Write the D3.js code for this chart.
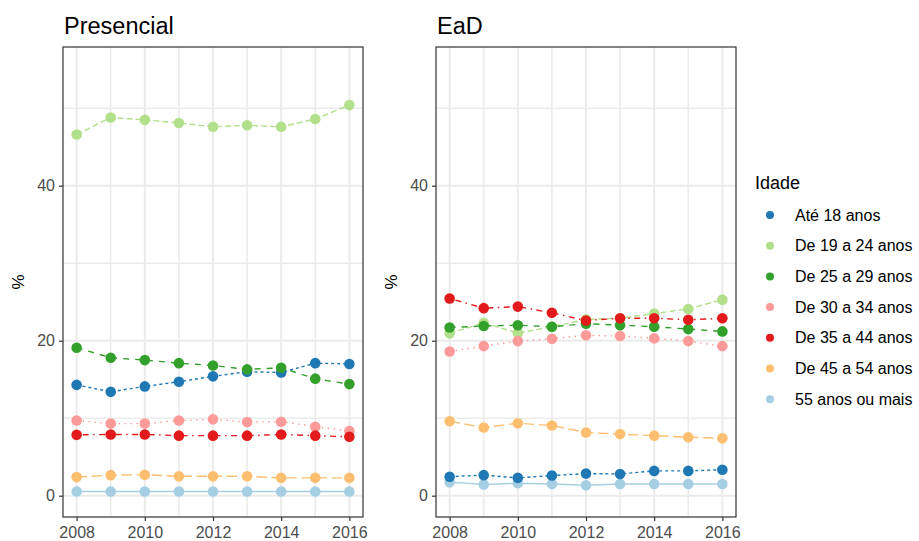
<!DOCTYPE html>
<html>
<head>
<meta charset="utf-8">
<script src="https://cdn.jsdelivr.net/npm/d3@7"></script>
<style>
  body { margin: 0; background: #fff; }
  svg { display: block; font-family: Arial, "Liberation Sans", sans-serif; }
</style>
</head>
<body>
<svg id="chart" width="919" height="541"></svg>
<script>
// Years and age groups
const years = [2008, 2009, 2010, 2011, 2012, 2013, 2014, 2015, 2016];
const ageGroups = ["Até 18 anos", "De 19 a 24 anos", "De 25 a 29 anos", "De 30 a 34 anos",
                   "De 35 a 44 anos", "De 45 a 54 anos", "55 anos ou mais"];
const groupColors = ["#1F78B4", "#B2DF8A", "#33A02C", "#FB9A99", "#E31A1C", "#FDBF6F", "#A6CEE3"];
const groupDashes = ["3,3", "6,3", "6,6", "1.5,4.5", "1.5,4.5,6,4.5", "10.5,4.5", null];

// Presencial (%)
const presAte18 = [14.3, 13.4, 14.1, 14.7, 15.4, 16.0, 15.9, 17.1, 17.0];
const pres19a24 = [46.6, 48.8, 48.5, 48.1, 47.6, 47.8, 47.6, 48.6, 50.4];
const pres25a29 = [19.1, 17.8, 17.5, 17.1, 16.8, 16.3, 16.5, 15.1, 14.4];
const pres30a34 = [9.7, 9.3, 9.3, 9.7, 9.85, 9.5, 9.55, 8.9, 8.35];
const pres35a44 = [7.85, 7.9, 7.9, 7.75, 7.75, 7.75, 7.9, 7.75, 7.6];
const pres45a54 = [2.4, 2.65, 2.7, 2.5, 2.5, 2.5, 2.3, 2.3, 2.3];
const pres55mais = [0.55, 0.55, 0.55, 0.55, 0.55, 0.55, 0.55, 0.55, 0.55];

// EaD (%)
const eadAte18 = [2.45, 2.65, 2.3, 2.6, 2.85, 2.8, 3.2, 3.2, 3.35];
const ead19a24 = [20.95, 22.3, 21.0, 21.8, 22.75, 22.9, 23.5, 24.1, 25.3];
const ead25a29 = [21.7, 21.9, 22.0, 21.8, 22.2, 22.0, 21.8, 21.5, 21.2];
const ead30a34 = [18.6, 19.3, 19.95, 20.25, 20.7, 20.6, 20.3, 19.95, 19.3];
const ead35a44 = [25.45, 24.2, 24.4, 23.6, 22.6, 22.9, 22.9, 22.7, 22.9];
const ead45a54 = [9.6, 8.8, 9.35, 9.05, 8.15, 7.95, 7.75, 7.55, 7.4];
const ead55mais = [1.75, 1.45, 1.6, 1.5, 1.35, 1.5, 1.5, 1.5, 1.5];

const panelTitles = ["Presencial", "EaD"];
const panelSeries = [
    [presAte18, pres19a24, pres25a29, pres30a34, pres35a44, pres45a54, pres55mais],
    [eadAte18, ead19a24, ead25a29, ead30a34, ead35a44, ead45a54, ead55mais]
];
const yMajorTicks = [0, 20, 40];
const yMinorTicks = [10, 30, 50];
const xMajorTicks = [2008, 2010, 2012, 2014, 2016];

const svg = d3.select('#chart');
const panelLefts = [63, 436];
const panelWidth = 300;
const panelTop = 47;
const panelBottom = 517;

const y = d3.scaleLinear()
    .domain([-2.75, 57.9])
    .range([panelBottom, panelTop]);

// Draw order (ggplot draws groups in level order; 55+ sorts first)
const drawOrder = [6, 0, 1, 2, 3, 4, 5];

panelTitles.forEach((title, p) => {
    const left = panelLefts[p];
    const x = d3.scaleLinear()
        .domain([2007.6, 2016.4])
        .range([left, left + panelWidth]);

    const g = svg.append('g');

    // Panel background
    g.append('rect')
        .attr('x', left)
        .attr('y', panelTop)
        .attr('width', panelWidth)
        .attr('height', panelBottom - panelTop)
        .attr('fill', '#fff');

    // Minor grid
    yMinorTicks.forEach(t => {
        g.append('line')
            .attr('x1', left).attr('x2', left + panelWidth)
            .attr('y1', y(t)).attr('y2', y(t))
            .attr('stroke', '#EBEBEB').attr('stroke-width', 1.6);
    });
    years.filter(yr => !xMajorTicks.includes(yr)).forEach(yr => {
        g.append('line')
            .attr('x1', x(yr)).attr('x2', x(yr))
            .attr('y1', panelTop).attr('y2', panelBottom)
            .attr('stroke', '#EBEBEB').attr('stroke-width', 1.6);
    });

    // Major grid
    yMajorTicks.forEach(t => {
        g.append('line')
            .attr('x1', left).attr('x2', left + panelWidth)
            .attr('y1', y(t)).attr('y2', y(t))
            .attr('stroke', '#EBEBEB').attr('stroke-width', 2);
    });
    xMajorTicks.forEach(yr => {
        g.append('line')
            .attr('x1', x(yr)).attr('x2', x(yr))
            .attr('y1', panelTop).attr('y2', panelBottom)
            .attr('stroke', '#EBEBEB').attr('stroke-width', 2);
    });

    // Lines
    const line = d3.line()
        .x((d, i) => x(years[i]))
        .y(d => y(d));

    drawOrder.forEach(k => {
        g.append('path')
            .datum(panelSeries[p][k])
            .attr('d', line)
            .attr('fill', 'none')
            .attr('stroke', groupColors[k])
            .attr('stroke-width', 1.4)
            .attr('stroke-dasharray', groupDashes[k]);
    });

    // Points
    drawOrder.forEach(k => {
        g.append('g')
            .selectAll('circle')
            .data(panelSeries[p][k])
            .join('circle')
            .attr('cx', (d, i) => x(years[i]))
            .attr('cy', d => y(d))
            .attr('r', 5.3)
            .attr('fill', groupColors[k]);
    });

    // Panel border
    g.append('rect')
        .attr('x', left)
        .attr('y', panelTop)
        .attr('width', panelWidth)
        .attr('height', panelBottom - panelTop)
        .attr('fill', 'none')
        .attr('stroke', '#333')
        .attr('stroke-width', 1.2);

    // Axes
    const yAxis = d3.axisLeft(y)
        .tickValues(yMajorTicks)
        .tickSize(4)
        .tickPadding(4);
    const ya = g.append('g')
        .attr('transform', `translate(${left},0)`)
        .call(yAxis);
    const xAxis = d3.axisBottom(x)
        .tickValues(xMajorTicks)
        .tickFormat(d3.format('d'))
        .tickSize(4)
        .tickPadding(6);
    const xa = g.append('g')
        .attr('transform', `translate(0,${panelBottom})`)
        .call(xAxis);

    [ya, xa].forEach(a => {
        a.select('.domain').remove();
        a.selectAll('.tick line').attr('stroke', '#333').attr('stroke-width', 1.2);
        a.selectAll('.tick text')
            .attr('fill', '#4D4D4D')
            .style('font-size', '16px')
            .style('font-family', 'Arial, "Liberation Sans", sans-serif');
    });

    // Panel title
    g.append('text')
        .attr('x', left + 1)
        .attr('y', 34)
        .style('font-size', '23.5px')
        .style('fill', '#000')
        .text(title);

    // Y axis title
    g.append('text')
        .attr('transform', `translate(${left - 39},282) rotate(-90)`)
        .attr('text-anchor', 'middle')
        .style('font-size', '17px')
        .style('fill', '#000')
        .text('%');
});

// Legend
const legend = svg.append('g');
legend.append('text')
    .attr('x', 755)
    .attr('y', 189)
    .style('font-size', '18px')
    .style('fill', '#000')
    .text('Idade');

ageGroups.forEach((name, i) => {
    const cy = 215 + i * 30.7;
    legend.append('circle')
        .attr('cx', 770)
        .attr('cy', cy)
        .attr('r', 4)
        .attr('fill', groupColors[i]);
    legend.append('text')
        .attr('x', 795)
        .attr('y', cy + 5.5)
        .style('font-size', '16px')
        .style('fill', '#000')
        .text(name);
});
</script>
</body>
</html>
